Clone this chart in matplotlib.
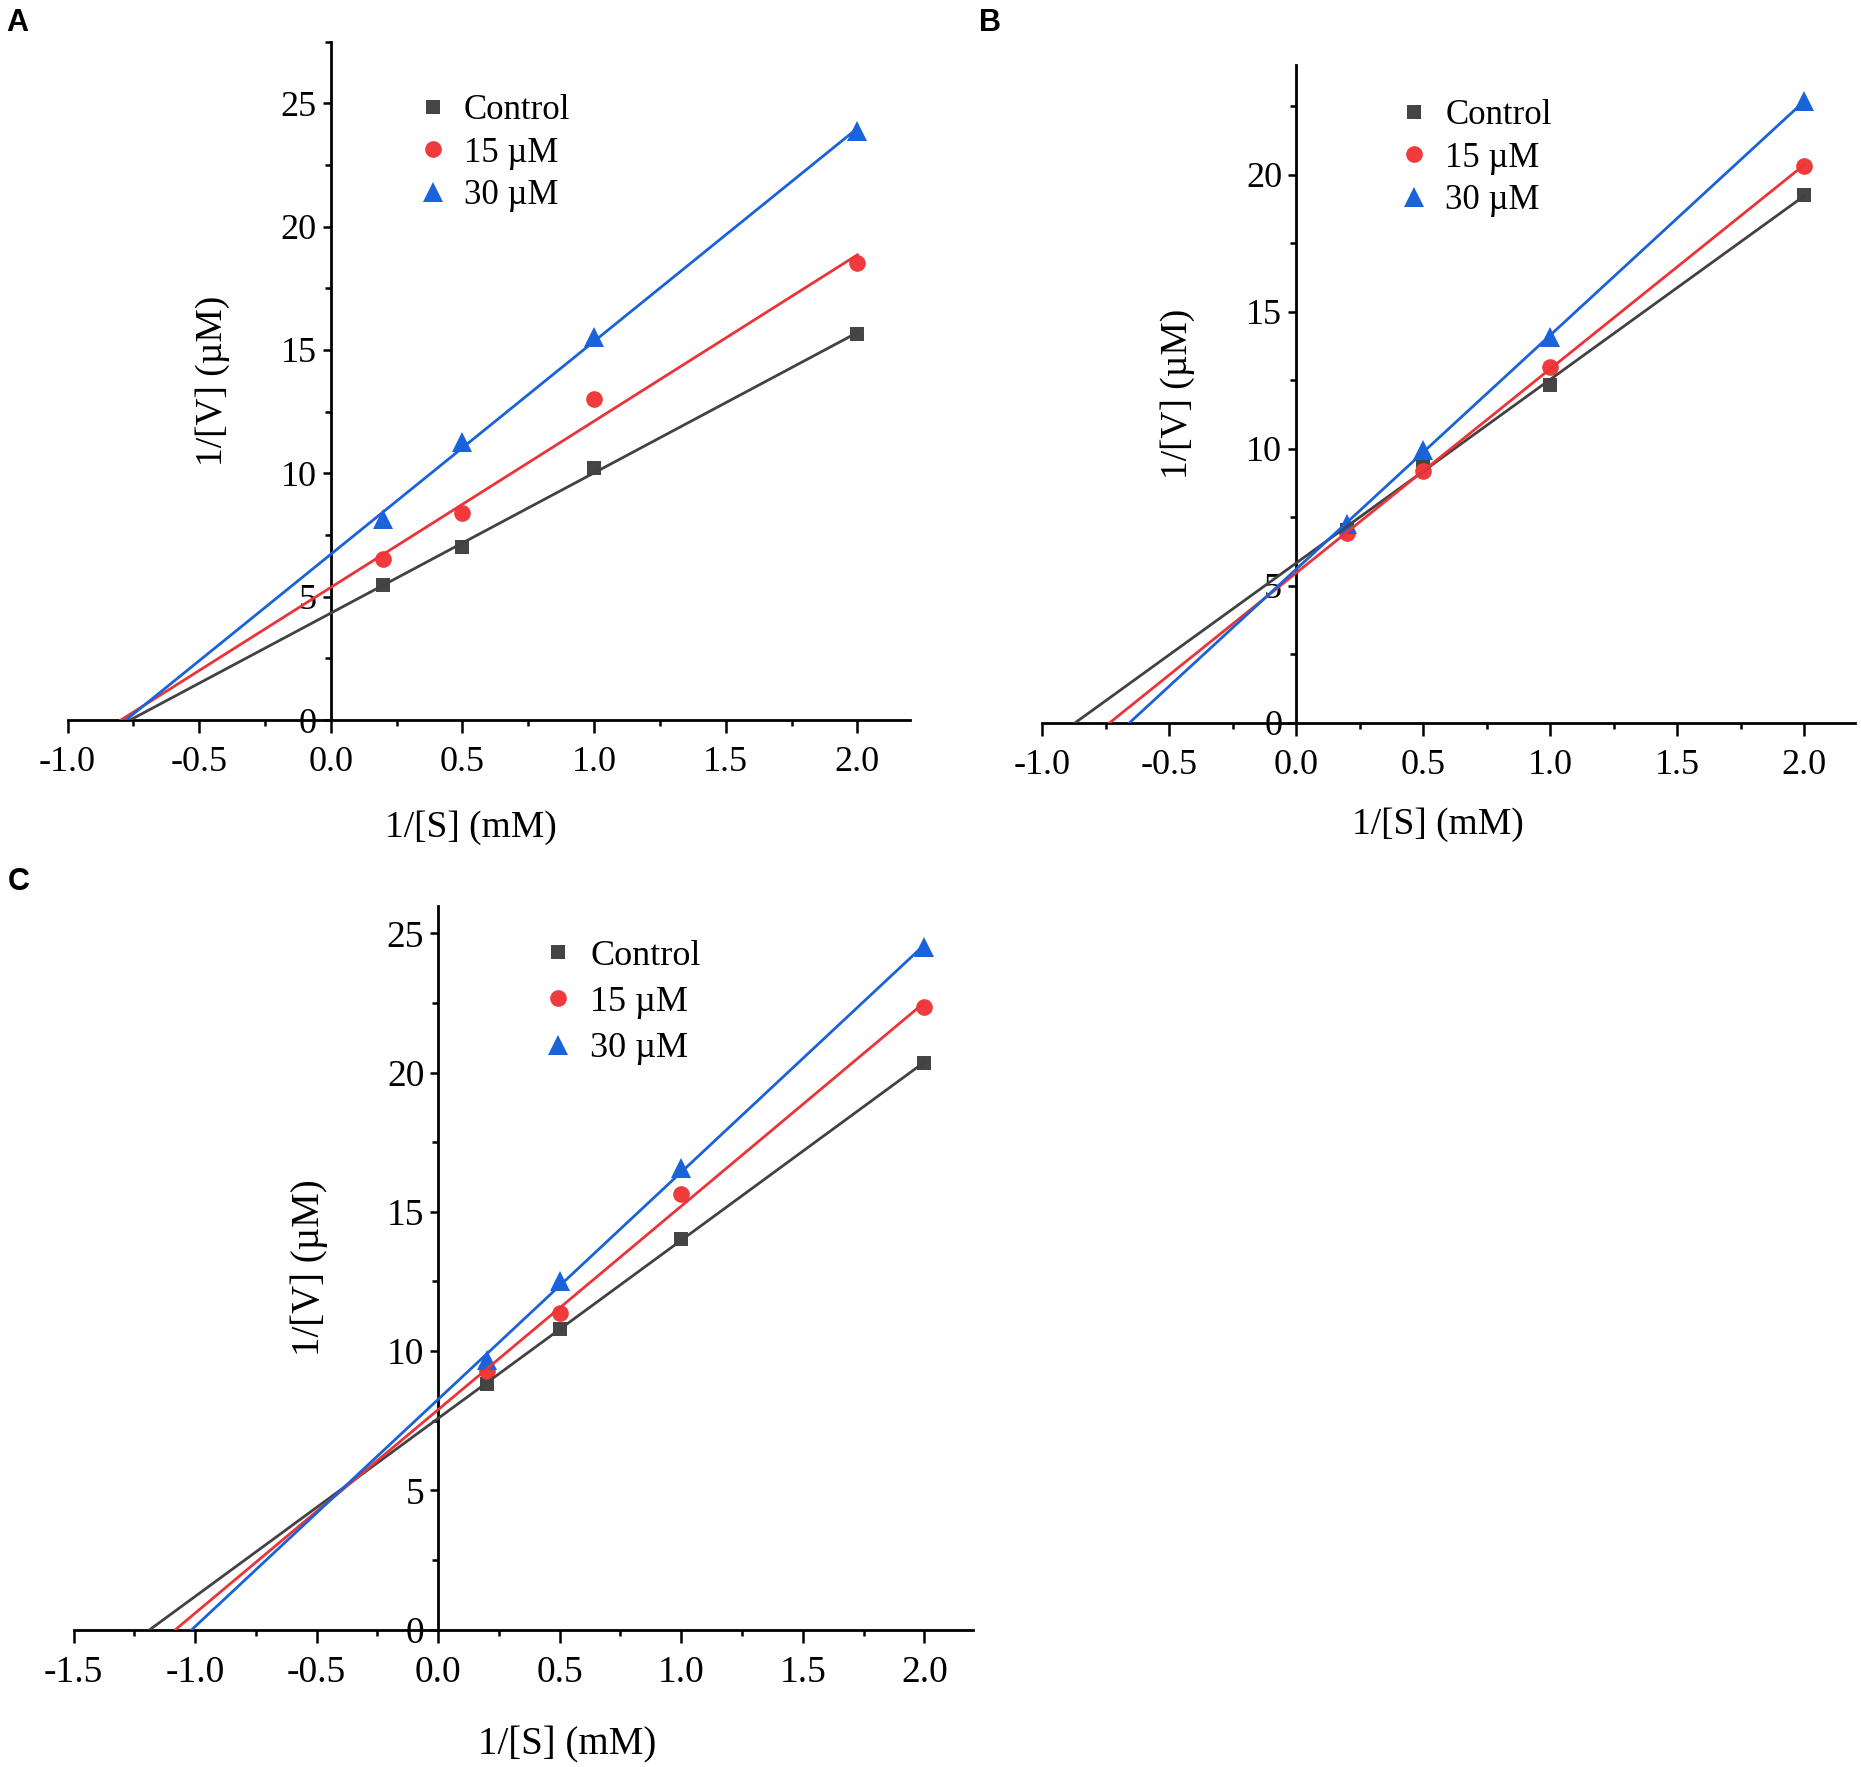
import numpy as np
import matplotlib.pyplot as plt
from matplotlib.ticker import MultipleLocator, FormatStrFormatter

plt.rcParams['font.family'] = ['Liberation Serif', 'DejaVu Serif']
plt.rcParams['axes.unicode_minus'] = False

x_vals = [0.2, 0.5, 1.0, 2.0]
series_names = ['Control', '15 µM', '30 µM']

# 1/[V] (Control, 15 uM, 30 uM)
a_control = [5.49, 7.02, 10.22, 15.64]
a_15 = [6.51, 8.40, 13.02, 18.51]
a_30 = [8.16, 11.27, 15.51, 23.87]

b_control = [7.05, 9.47, 12.33, 19.28]
b_15 = [6.93, 9.19, 12.99, 20.34]
b_30 = [7.27, 9.97, 14.10, 22.70]

c_control = [8.83, 10.80, 14.01, 20.36]
c_15 = [9.27, 11.36, 15.65, 22.35]
c_30 = [9.68, 12.52, 16.56, 24.50]

marker_colors = ['#454545', '#f03a3c', '#1b63dc']
line_colors = ['#424242', '#ec3438', '#1a62da']
markers = ['s', 'o', '^']
msizes = [10.5, 12, 14]

fig = plt.figure(figsize=(18.61, 17.67), dpi=100)


def draw_panel(rect, data, xlim, ylim, xmajor_ticks, legend_pos, legend_space,
               ylabel_x, xlabel_xy, fs=26):
    ax = fig.add_axes(rect)
    for ys, mc, lc, mk, ms, name in zip(data, marker_colors, line_colors, markers, msizes, series_names):
        ax.plot(x_vals, ys, linestyle='none', marker=mk, ms=ms, color=mc,
                markeredgewidth=0, label=name, zorder=3, clip_on=False)
        slope, icpt = np.polyfit(x_vals, ys, 1)
        x0 = -icpt / slope
        ax.plot([x0, max(x_vals)], [0, slope * max(x_vals) + icpt], color=lc, lw=2.0, zorder=4)
    ax.set_xlim(*xlim)
    ax.set_ylim(*ylim)
    ax.spines['left'].set_position(('data', 0))
    ax.spines['bottom'].set_position(('data', 0))
    ax.spines['top'].set_visible(False)
    ax.spines['right'].set_visible(False)
    for s in ('left', 'bottom'):
        ax.spines[s].set_linewidth(2.0)
    ax.set_xticks(xmajor_ticks)
    ax.xaxis.set_minor_locator(MultipleLocator(0.25))
    ax.yaxis.set_major_locator(MultipleLocator(5))
    ax.yaxis.set_minor_locator(MultipleLocator(2.5))
    ax.xaxis.set_major_formatter(FormatStrFormatter('%.1f'))
    ax.tick_params(axis='x', which='major', length=9, width=1.8, labelsize=fs, pad=10)
    ax.tick_params(axis='x', which='minor', length=4, width=1.8)
    ax.tick_params(axis='y', which='major', length=6, width=1.8, labelsize=fs, pad=4)
    ax.tick_params(axis='y', which='minor', length=4, width=1.8)
    ax.set_xlabel('1/[S] (mM)', fontsize=fs + 1)
    ax.xaxis.set_label_coords(*xlabel_xy)
    ax.set_ylabel('1/[V] (µM)', fontsize=fs + 1, va='center')
    ax.yaxis.set_label_coords(ylabel_x, 0.5)
    ax.legend(loc='upper left', bbox_to_anchor=legend_pos, frameon=False, fontsize=fs - 1,
              handletextpad=0.4, labelspacing=legend_space, borderpad=0, handlelength=1.0)
    return ax


draw_panel([0.0363, 0.5925, 0.4527, 0.384], [a_control, a_15, a_30],
           (-1.0, 2.2), (0, 27.5), [-1.0, -0.5, 0.0, 0.5, 1.0, 1.5, 2.0],
           (0.392, 0.948), 0.27, 0.172, (0.479, -0.133))
draw_panel([0.560, 0.5909, 0.4368, 0.3721], [b_control, b_15, b_30],
           (-1.0, 2.2), (0, 24), [-1.0, -0.5, 0.0, 0.5, 1.0, 1.5, 2.0],
           (0.415, 0.975), 0.27, 0.167, (0.487, -0.129))
draw_panel([0.0395, 0.0778, 0.4833, 0.4097], [c_control, c_15, c_30],
           (-1.5, 2.2), (0, 26), [-1.5, -1.0, -0.5, 0.0, 0.5, 1.0, 1.5, 2.0],
           (0.498, 0.978), 0.36, 0.262, (0.549, -0.134), fs=27)

for lab, px, py in [('A', 6, 8), ('B', 979, 8), ('C', 8, 867)]:
    fig.text(px / 1861, 1 - py / 1767, lab, family='Liberation Sans', fontweight='bold',
             fontsize=22, ha='left', va='top')

fig.savefig('out.png', dpi=100)
